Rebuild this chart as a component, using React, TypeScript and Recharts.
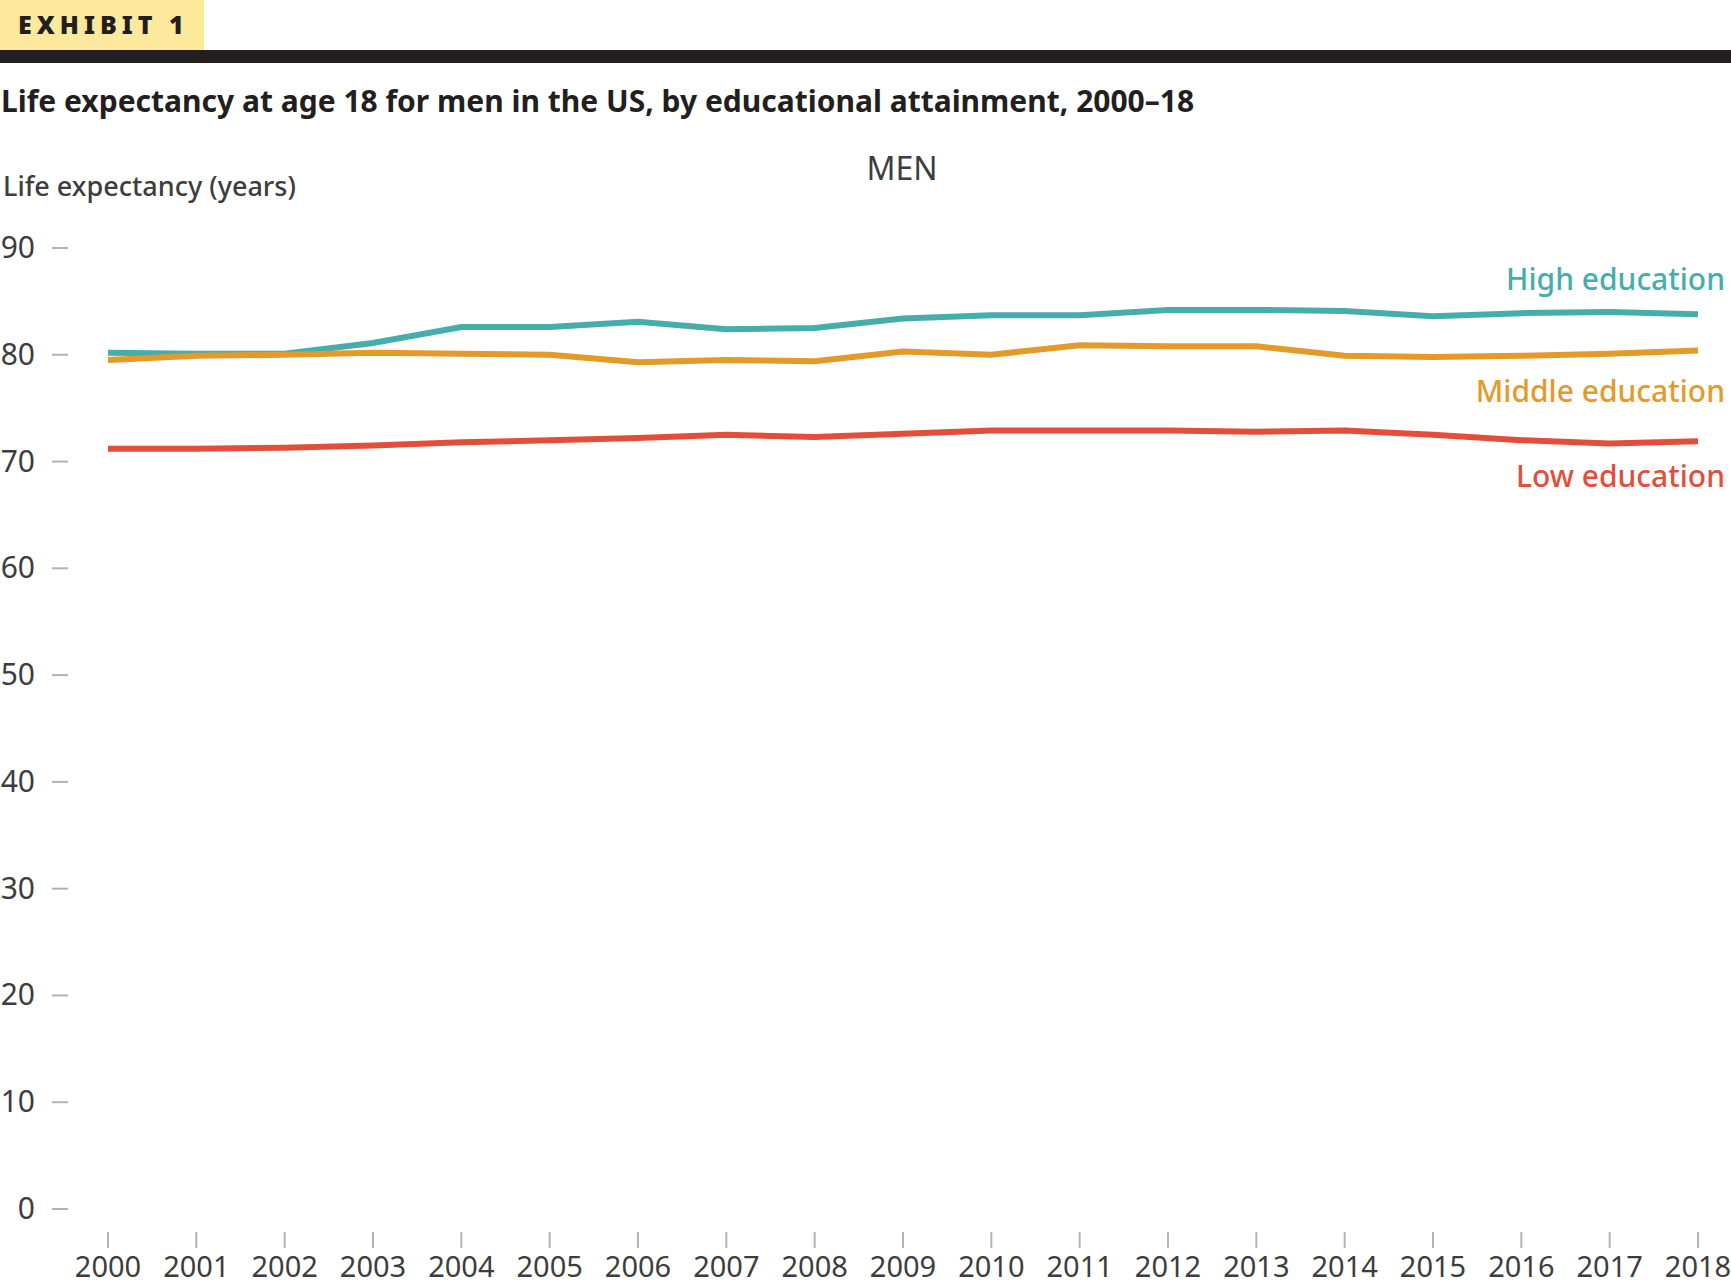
import { LineChart, Line, XAxis, YAxis, LabelList } from 'recharts'

const years = ['2000', '2001', '2002', '2003', '2004', '2005', '2006', '2007', '2008', '2009', '2010', '2011', '2012', '2013', '2014', '2015', '2016', '2017', '2018']
const highEducation = [80.2, 80.1, 80.1, 81.1, 82.6, 82.6, 83.1, 82.4, 82.5, 83.4, 83.7, 83.7, 84.2, 84.2, 84.1, 83.6, 83.9, 84.0, 83.8]
const middleEducation = [79.5, 79.9, 80.0, 80.2, 80.1, 80.0, 79.3, 79.5, 79.4, 80.3, 80.0, 80.9, 80.8, 80.8, 79.9, 79.8, 79.9, 80.1, 80.4]
const lowEducation = [71.2, 71.2, 71.3, 71.5, 71.8, 72.0, 72.2, 72.5, 72.3, 72.6, 72.9, 72.9, 72.9, 72.8, 72.9, 72.5, 72.0, 71.7, 71.9]
const yTicks = [0, 10, 20, 30, 40, 50, 60, 70, 80, 90]

const data = years.map((year, i) => ({
  year,
  high: highEducation[i],
  middle: middleEducation[i],
  low: lowEducation[i],
}))

const FONT = '"Noto Sans", sans-serif'
const TEXT = '#3d3d3d'
const TICK_MARK = '#b3b3b3'

const series = [
  { key: 'high', name: 'High education', color: '#45aead', dy: -24 },
  { key: 'middle', name: 'Middle education', color: '#e39a29', dy: 51 },
  { key: 'low', name: 'Low education', color: '#e34e3a', dy: 46 },
]

function XTick({ x, y, payload }: any) {
  return (
    <g>
      <line x1={x} x2={x} y1={y + 23} y2={y + 39} stroke={TICK_MARK} strokeWidth={2} />
      <text x={x} y={y + 68} textAnchor="middle" fill={TEXT} fontSize={29} fontFamily={FONT}>
        {payload.value}
      </text>
    </g>
  )
}

function YTick({ x, y, payload }: any) {
  return (
    <g>
      <line x1={x - 56} x2={x - 40} y1={y} y2={y} stroke={TICK_MARK} strokeWidth={2} />
      <text x={x - 73} y={y + 10} textAnchor="end" fill={TEXT} fontSize={30} fontFamily={FONT}>
        {payload.value}
      </text>
    </g>
  )
}

function endLabel(name: string, color: string, dy: number) {
  return (props: any) => {
    const { x, y, index } = props
    if (index !== years.length - 1) return null
    return (
      <text x={x + 27} y={y + dy} textAnchor="end" fill={color} fontSize={30} fontWeight={500} fontFamily={FONT}>
        {name}
      </text>
    )
  }
}

export default function App() {
  return (
    <div style={{ position: 'absolute', left: 0, top: 0, width: 1731, height: 1284, background: '#fff', fontFamily: FONT, overflow: 'hidden' }}>
      <div style={{ position: 'absolute', left: 0, top: 0, width: 204, height: 50, background: '#fde99b' }} />
      <div style={{ position: 'absolute', left: 18, top: 7, fontSize: 25, fontWeight: 900, letterSpacing: 5, color: '#231f20', lineHeight: '34px' }}>
        EXHIBIT 1
      </div>
      <div style={{ position: 'absolute', left: 0, top: 50, width: 1731, height: 13, background: '#231f20' }} />
      <div style={{ position: 'absolute', left: 1, top: 81, fontSize: 30, fontWeight: 700, color: '#231f20', whiteSpace: 'nowrap', lineHeight: '40px' }}>
        Life expectancy at age 18 for men in the US, by educational attainment, 2000–18
      </div>
      <div style={{ position: 'absolute', left: 902, top: 146, transform: 'translateX(-50%)', fontSize: 32, color: TEXT, lineHeight: '44px' }}>
        MEN
      </div>
      <div style={{ position: 'absolute', left: 3, top: 167, fontSize: 27, fontWeight: 500, color: TEXT, whiteSpace: 'nowrap', lineHeight: '38px' }}>
        Life expectancy (years)
      </div>
      <div style={{ position: 'absolute', left: 0, top: 0 }}>
        <LineChart width={1731} height={1284} data={data} margin={{ top: 248, right: 33, bottom: 0, left: 0 }}>
          <XAxis
            dataKey="year"
            interval={0}
            axisLine={false}
            tickLine={false}
            tickSize={0}
            tickMargin={0}
            height={75}
            tick={<XTick />}
          />
          <YAxis
            type="number"
            domain={[0, 90]}
            ticks={yTicks}
            axisLine={false}
            tickLine={false}
            tickSize={0}
            tickMargin={0}
            width={108}
            tick={<YTick />}
          />
          {series.map((s) => (
            <Line
              key={s.key}
              type="linear"
              dataKey={s.key}
              stroke={s.color}
              strokeWidth={6}
              dot={false}
              isAnimationActive={false}
            >
              <LabelList dataKey={s.key} content={endLabel(s.name, s.color, s.dy)} />
            </Line>
          ))}
        </LineChart>
      </div>
    </div>
  )
}
